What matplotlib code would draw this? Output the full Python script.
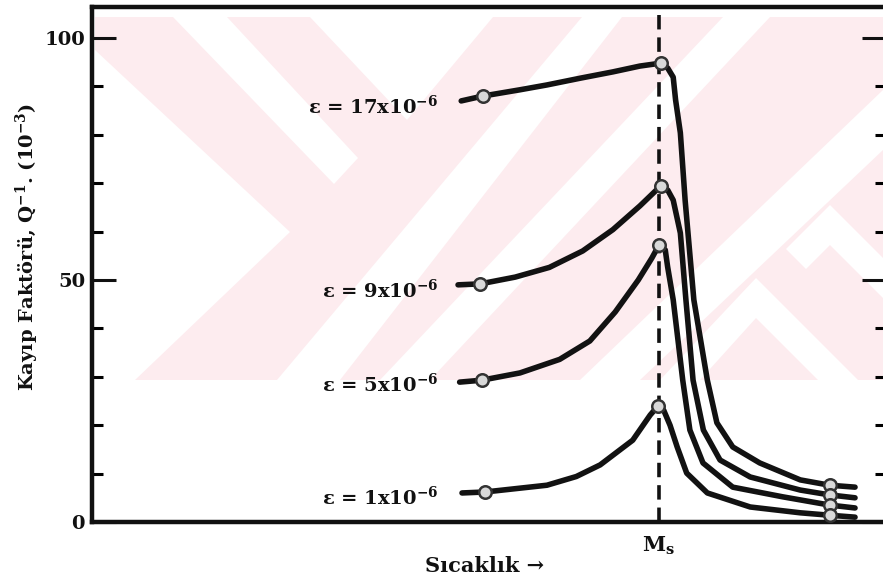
import matplotlib
matplotlib.use("Agg")
import matplotlib.pyplot as plt
from matplotlib.patches import Polygon
from matplotlib.ticker import MultipleLocator

# ---------------- data ----------------
labels = ["ε = 17x10$^{-6}$", "ε = 9x10$^{-6}$", "ε = 5x10$^{-6}$", "ε = 1x10$^{-6}$"]

x_17 = [46.5, 49.2, 53.9, 57.3, 61.5, 65.6, 69.0, 71.6, 72.5, 73.2, 73.5, 74.1, 74.7, 75.8, 77.5, 78.7, 80.7, 84.1, 89.2, 92.9, 96.1]
y_17 = [87.0, 88.0, 89.3, 90.3, 91.7, 93.0, 94.2, 94.8, 93.8, 91.9, 87.2, 80.4, 66.5, 45.9, 29.3, 20.5, 15.5, 12.2, 8.7, 7.6, 7.2]

x_9 = [46.1, 48.9, 53.3, 57.6, 61.8, 65.6, 69.0, 71.6, 72.5, 73.2, 74.1, 74.8, 75.7, 77.0, 79.1, 82.9, 89.2, 92.9, 96.1]
y_9 = [49.0, 49.2, 50.6, 52.6, 56.0, 60.4, 65.3, 69.4, 68.6, 66.5, 59.7, 45.9, 29.3, 19.0, 12.8, 9.3, 6.6, 5.6, 5.0]

x_5 = [46.3, 49.1, 53.9, 58.9, 62.7, 65.9, 68.8, 70.5, 71.4, 72.2, 72.5, 73.2, 74.4, 75.3, 76.95, 80.7, 87.0, 92.9, 96.1]
y_5 = [28.9, 29.3, 30.8, 33.6, 37.4, 43.4, 50.0, 54.5, 57.2, 56.2, 52.7, 45.9, 29.3, 19.0, 12.2, 7.2, 5.2, 3.5, 2.9]

x_1 = [46.6, 49.5, 57.3, 61.0, 64.0, 68.1, 70.3, 71.3, 72.0, 72.8, 73.7, 74.9, 77.5, 82.9, 89.2, 92.9, 96.1]
y_1 = [6.0, 6.2, 7.6, 9.4, 11.8, 16.9, 22.1, 24.0, 23.1, 20.0, 15.5, 10.1, 6.0, 3.1, 1.9, 1.4, 1.0]

# circle markers: start, peak (at Ms) and end of each curve
mx_17 = [49.2, 71.6, 92.9]; my_17 = [88.0, 94.8, 7.6]
mx_9 = [48.9, 71.6, 92.9];  my_9 = [49.2, 69.4, 5.6]
mx_5 = [49.1, 71.4, 92.9];  my_5 = [29.3, 57.2, 3.5]
mx_1 = [49.5, 71.3, 92.9];  my_1 = [6.2, 24.0, 1.4]

label_y = [86.0, 47.9, 28.5, 5.2]
ms_x = 71.4
yticks_major = [0, 50, 100]

# ---------------- styling ----------------
W, H = 883, 581
plt.rcParams["font.family"] = ["DejaVu Serif"]
plt.rcParams["font.weight"] = "bold"
plt.rcParams["mathtext.fontset"] = "custom"
plt.rcParams["mathtext.rm"] = "DejaVu Serif:bold"
plt.rcParams["mathtext.it"] = "DejaVu Serif:bold"
plt.rcParams["mathtext.bf"] = "DejaVu Serif:bold"

fig = plt.figure(figsize=(W / 100, H / 100), dpi=100)
fig.patch.set_facecolor("white")

def px(pts):
    return [(x / W, 1 - y / H) for x, y in pts]

# faint pink watermark behind the plot
pink = "#fdecef"
fig.add_artist(Polygon(px([(95, 17), (883, 17), (883, 380), (95, 380)]), closed=True,
                       transform=fig.transFigure, facecolor=pink, edgecolor="none", zorder=-2))
white_shapes = [
    [(95, 50), (290, 232), (135, 380), (95, 380)],
    [(173, 17), (227, 17), (358, 158), (334, 184)],
    [(310, 17), (493, 17), (407, 120)],
    [(582, 17), (622, 17), (340, 380), (277, 380)],
    [(723, 17), (770, 17), (430, 380), (380, 380)],
    [(580, 380), (640, 380), (883, 150), (883, 90)],
    [(756, 278), (858, 380), (818, 380), (756, 318), (700, 380), (660, 380)],
    [(830, 205), (883, 258), (883, 298), (830, 245), (806, 269), (786, 249)],
]
for shp in white_shapes:
    fig.add_artist(Polygon(px(shp), closed=True, transform=fig.transFigure,
                           facecolor="white", edgecolor="none", zorder=-1))

left, right, bottom, top = 92, 886, 522, 7
ax = fig.add_axes([left / W, 1 - bottom / H, (right - left) / W, (bottom - top) / H])
ax.set_facecolor("none")
ax.set_xlim(0, 100)
ax.set_ylim(0, (bottom - top) / 4.84)

for s in ax.spines.values():
    s.set_linewidth(3.2)
    s.set_color("#111111")

# Ms dashed line
ax.axvline(ms_x, color="#111111", lw=2.6, dashes=(4, 2.2), zorder=2)

line_kw = dict(color="#121212", lw=4.0, solid_capstyle="round", solid_joinstyle="round", zorder=3)
mk_kw = dict(linestyle="none", marker="o", markersize=9, markerfacecolor="#d9d9d9",
             markeredgecolor="#333333", markeredgewidth=1.8, zorder=4)
series = [(x_17, y_17, mx_17, my_17), (x_9, y_9, mx_9, my_9),
          (x_5, y_5, mx_5, my_5), (x_1, y_1, mx_1, my_1)]
for (xs, ys, mxs, mys), lab, ly in zip(series, labels, label_y):
    ax.plot(xs, ys, **line_kw)
    ax.plot(mxs, mys, **mk_kw)
    ax.text(43.6, ly, lab, ha="right", va="center", fontsize=14, fontweight="bold", color="#111111")

# y axis ticks (inside, both sides)
ax.set_yticks(yticks_major)
ax.set_yticklabels([str(v) for v in yticks_major])
ax.yaxis.set_minor_locator(MultipleLocator(10))
ax.tick_params(axis="y", which="major", direction="in", length=17, width=2.2,
               left=True, right=True, labelsize=14, pad=5, colors="#111111")
ax.tick_params(axis="y", which="minor", direction="in", length=8, width=2.2,
               left=True, right=True)
for t in ax.get_yticklabels():
    t.set_fontweight("bold")

# x axis: only the Ms mark
ax.set_xticks([ms_x])
ax.set_xticklabels(["M$_s$"])
ax.tick_params(axis="x", which="both", length=0, pad=9, labelsize=15, colors="#111111")

ax.set_xlabel("Sıcaklık →", fontsize=15, fontweight="bold", color="#111111")
ax.xaxis.set_label_coords((485 - left) / (right - left), -(566 - bottom) / (bottom - top))
ax.xaxis.label.set_va("center")

fig.text(27 / W, 1 - 247 / H, "Kayıp Faktörü, Q$^{-1}$. (10$^{-3}$)", rotation=90,
         ha="center", va="center", fontsize=14, fontweight="bold", color="#111111")

fig.savefig("out.png", dpi=100, facecolor="white")
